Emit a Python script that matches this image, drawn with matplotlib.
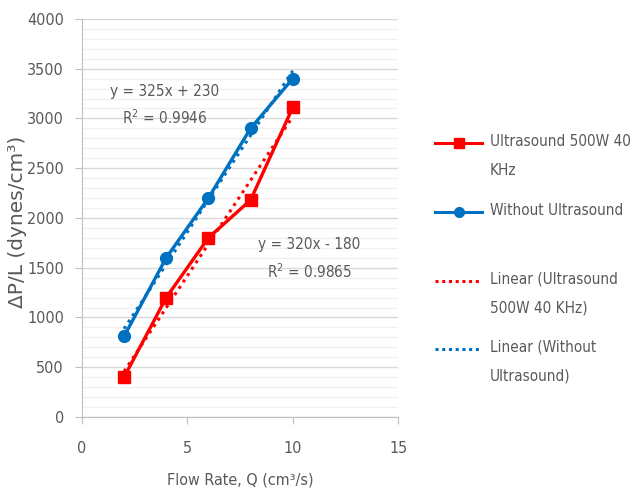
import numpy as np
import matplotlib
matplotlib.use('Agg')
import matplotlib.pyplot as plt
from matplotlib.lines import Line2D
from matplotlib.ticker import MultipleLocator

plt.rcParams['font.family'] = ['DejaVu Sans']
plt.rcParams['font.stretch'] = 'condensed'

flow = [2, 4, 6, 8, 10]
dp_us = [400, 1200, 1800, 2180, 3110]
dp_no = [810, 1600, 2200, 2900, 3400]
eq_us = ['y = 320x - 180', 'R$^2$ = 0.9865']
eq_no = ['y = 325x + 230', 'R$^2$ = 0.9946']
labels = ['Ultrasound 500W 40\nKHz', 'Without Ultrasound',
          'Linear (Ultrasound\n500W 40 KHz)', 'Linear (Without\nUltrasound)']

red, blue, grey = '#ff0000', '#0070c0', '#595959'
fs = 11.5

fig = plt.figure(figsize=(6.3, 4.97), dpi=100)
ax = fig.add_axes([0.130, 0.161, 0.502, 0.801])

ax.plot(flow, dp_us, color=red, lw=2.4, marker='s', ms=8.5, zorder=4)
ax.plot(flow, dp_no, color=blue, lw=2.4, marker='o', ms=8.5, zorder=4)

# linear trendlines
xs = np.array([min(flow), max(flow)])
for y, c in [(dp_us, red), (dp_no, blue)]:
    m, b = np.polyfit(flow, y, 1)
    ax.plot(xs, m * xs + b, color=c, lw=2.2, ls=(0, (1, 1.5)), zorder=5)

ax.text(3.94, 3266, eq_no[0], ha='center', va='center', color=grey, fontsize=11)
ax.text(3.94, 3005, eq_no[1], ha='center', va='center', color=grey, fontsize=11)
ax.text(10.8, 1729, eq_us[0], ha='center', va='center', color=grey, fontsize=11)
ax.text(10.8, 1457, eq_us[1], ha='center', va='center', color=grey, fontsize=11)

ax.set_xlim(0, 15)
ax.set_ylim(0, 4000)
ax.xaxis.set_major_locator(MultipleLocator(5))
ax.yaxis.set_major_locator(MultipleLocator(500))
ax.yaxis.set_minor_locator(MultipleLocator(100))
ax.grid(axis='y', which='major', color='#d9d9d9', lw=1)
ax.grid(axis='y', which='minor', color='#f0f0f0', lw=1)
ax.set_axisbelow(True)
for s in ['top', 'right']:
    ax.spines[s].set_visible(False)
for s in ['left', 'bottom']:
    ax.spines[s].set_color('#bfbfbf')
ax.tick_params(which='major', length=5, color='#bfbfbf', labelcolor=grey, labelsize=fs)
ax.tick_params(axis='x', pad=12)
ax.tick_params(axis='y', pad=8)
ax.tick_params(which='minor', length=0)
ax.set_xlabel('Flow Rate, Q (cm³/s)', color=grey, fontsize=fs)
ax.xaxis.set_label_coords(0.5, -0.14)
ax.set_ylabel('ΔP/L (dynes/cm³)', color=grey, fontsize=14.5, fontstretch='normal')
ax.yaxis.set_label_coords(-0.174, 0.49)

# legend on the right
handles = [dict(color=red, ls='-', marker='s'), dict(color=blue, ls='-', marker='o'),
           dict(color=red, ls=(0, (1, 1.2)), marker=None), dict(color=blue, ls=(0, (1, 1.2)), marker=None)]
ys = [143, 212, 281, 349]
for h, yp, lab in zip(handles, ys, labels):
    yf = 1 - yp / 497
    fig.add_artist(Line2D([435 / 630, 482 / 630], [yf, yf], color=h['color'], ls=h['ls'], lw=2.2))
    if h['marker']:
        fig.add_artist(Line2D([458.5 / 630], [yf], color=h['color'], marker=h['marker'], ms=7))
    fig.text(490 / 630, yf + 0.019, lab, color=grey, fontsize=11, va='top', ha='left', linespacing=2.2)

fig.savefig('out.png', dpi=100)
